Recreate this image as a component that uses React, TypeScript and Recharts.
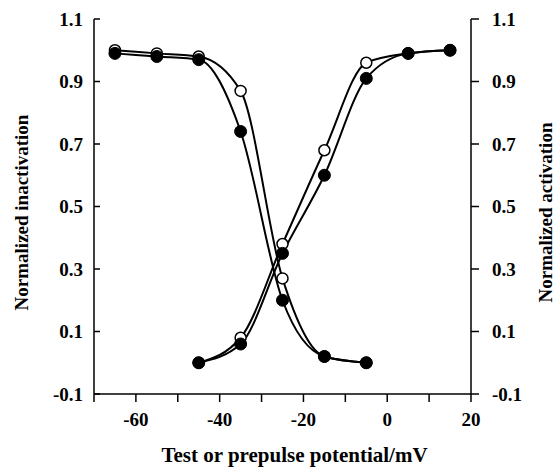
import React from 'react';
import { LineChart, Line, XAxis, YAxis } from 'recharts';

const inactPotentials = [-65, -55, -45, -35, -25, -15, -5];
const inactFilled = [0.99, 0.98, 0.97, 0.74, 0.2, 0.02, 0.0];
const inactOpen = [1.0, 0.99, 0.98, 0.87, 0.27, 0.02, 0.0];
const actPotentials = [-45, -35, -25, -15, -5, 5, 15];
const actFilled = [0.0, 0.06, 0.35, 0.6, 0.91, 0.99, 1.0];
const actOpen = [0.0, 0.08, 0.38, 0.68, 0.96, 0.99, 1.0];

const xTicks = [-70, -60, -50, -40, -30, -20, -10, 0, 10, 20];
const xLabeled = [-60, -40, -20, 0, 20];
const yTicks = [-0.1, 0.1, 0.3, 0.5, 0.7, 0.9, 1.1];

const toRows = (xs: number[], ys: number[]) => xs.map((x, i) => ({ x, y: ys[i] }));
const inactFilledRows = toRows(inactPotentials, inactFilled);
const inactOpenRows = toRows(inactPotentials, inactOpen);
const actFilledRows = toRows(actPotentials, actFilled);
const actOpenRows = toRows(actPotentials, actOpen);

const FONT = '"Liberation Serif", "Times New Roman", serif';

const XTick = (props: any) => {
  const { x, y, payload } = props;
  const v = payload.value;
  return (
    <g>
      <line x1={x} y1={y} x2={x} y2={y + 8} stroke="#000" strokeWidth={1.5} />
      {xLabeled.includes(v) && (
        <text x={x} y={y + 32} textAnchor="middle" fontFamily={FONT} fontWeight="bold" fontSize={19} fill="#000">
          {v}
        </text>
      )}
    </g>
  );
};

const LeftTick = (props: any) => {
  const { x, y, payload } = props;
  return (
    <g>
      <line x1={x} y1={y} x2={x + 6} y2={y} stroke="#000" strokeWidth={1.5} />
      <text x={x - 11} y={y} dy="0.35em" textAnchor="end" fontFamily={FONT} fontWeight="bold" fontSize={19} fill="#000">
        {payload.value.toFixed(1)}
      </text>
    </g>
  );
};

const RightTick = (props: any) => {
  const { x, y, payload } = props;
  return (
    <g>
      <line x1={x} y1={y} x2={x + 8} y2={y} stroke="#000" strokeWidth={1.5} />
      <text x={x + 21} y={y} dy="0.35em" textAnchor="start" fontFamily={FONT} fontWeight="bold" fontSize={19} fill="#000">
        {payload.value.toFixed(1)}
      </text>
    </g>
  );
};

const LeftTitle = (props: any) => {
  const vb = props.viewBox;
  const cx = vb.x + 21;
  const cy = vb.y + vb.height / 2 + 6;
  return (
    <text x={cx} y={cy} transform={`rotate(-90 ${cx} ${cy})`} textAnchor="middle" dominantBaseline="central" fontFamily={FONT} fontWeight="bold" fontSize={19} fill="#000">
      Normalized inactivation
    </text>
  );
};

const RightTitle = (props: any) => {
  const vb = props.viewBox;
  const cx = vb.x + vb.width - 14;
  const cy = vb.y + vb.height / 2 + 6;
  return (
    <text x={cx} y={cy} transform={`rotate(-90 ${cx} ${cy})`} textAnchor="middle" dominantBaseline="central" fontFamily={FONT} fontWeight="bold" fontSize={19} fill="#000">
      Normalized activation
    </text>
  );
};

const XTitle = (props: any) => {
  const vb = props.viewBox;
  const cx = vb.x + vb.width / 2 + 12;
  const cy = vb.y + 61;
  return (
    <text x={cx} y={cy} textAnchor="middle" dominantBaseline="central" fontFamily={FONT} fontWeight="bold" fontSize={21} fill="#000">
      Test or prepulse potential/mV
    </text>
  );
};

const openDot = { r: 5.5, fill: '#fff', stroke: '#000', strokeWidth: 1.5 };
const filledDot = { r: 6, fill: '#000', stroke: '#000', strokeWidth: 1 };

export default function App() {
  return (
    <div style={{ position: 'absolute', left: 0, top: 0, width: 559, height: 470, background: '#fff' }}>
      <LineChart width={559} height={470} margin={{ top: 19, right: 0, bottom: 0, left: 0 }}>
        <XAxis
          type="number"
          dataKey="x"
          domain={[-70, 20]}
          ticks={xTicks}
          allowDataOverflow
          height={76}
          tickSize={0}
          tickMargin={0}
          tick={<XTick />}
          axisLine={{ stroke: '#000', strokeWidth: 1.5 }}
          tickLine={false}
          interval={0}
          label={<XTitle />}
        />
        <YAxis
          yAxisId="left"
          type="number"
          domain={[-0.1, 1.1]}
          ticks={yTicks}
          allowDataOverflow
          width={94}
          tickSize={0}
          tickMargin={0}
          tick={<LeftTick />}
          axisLine={{ stroke: '#000', strokeWidth: 1.5 }}
          tickLine={false}
          interval={0}
          label={<LeftTitle />}
        />
        <YAxis
          yAxisId="right"
          orientation="right"
          type="number"
          domain={[-0.1, 1.1]}
          ticks={yTicks}
          allowDataOverflow
          width={88}
          tickSize={0}
          tickMargin={0}
          tick={<RightTick />}
          axisLine={{ stroke: '#000', strokeWidth: 1.5 }}
          tickLine={false}
          interval={0}
          label={<RightTitle />}
        />
        <Line yAxisId="left" data={inactOpenRows} dataKey="y" type="monotone" stroke="#000" strokeWidth={2} dot={openDot} activeDot={false} isAnimationActive={false} />
        <Line yAxisId="left" data={actOpenRows} dataKey="y" type="monotone" stroke="#000" strokeWidth={2} dot={openDot} activeDot={false} isAnimationActive={false} />
        <Line yAxisId="left" data={inactFilledRows} dataKey="y" type="monotone" stroke="#000" strokeWidth={2} dot={filledDot} activeDot={false} isAnimationActive={false} />
        <Line yAxisId="left" data={actFilledRows} dataKey="y" type="monotone" stroke="#000" strokeWidth={2} dot={filledDot} activeDot={false} isAnimationActive={false} />
      </LineChart>
    </div>
  );
}
